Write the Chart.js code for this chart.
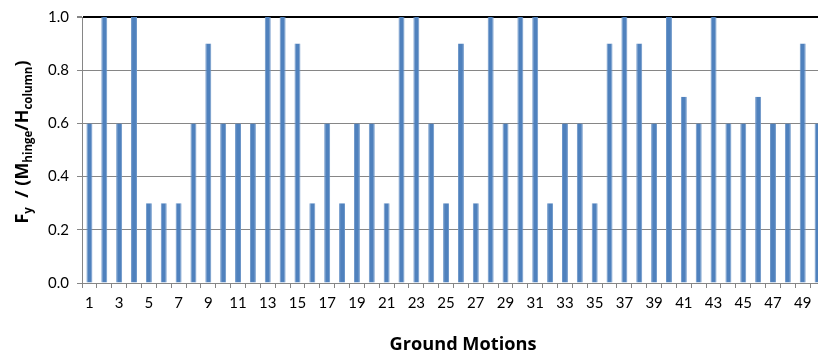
<!DOCTYPE html>
<html>
<head>
<meta charset="utf-8">
<script src="https://cdn.jsdelivr.net/npm/chart.js@4"></script>
<style>
  html, body { margin: 0; padding: 0; background: #fff; overflow: hidden; }
  #wrap { width: 818px; height: 358px; overflow: hidden; }
</style>
</head>
<body>
<div id="wrap"><canvas id="fyChart" width="826" height="358"></canvas></div>
<script>
// ground motion numbers 1..50
const motions = [];
for (let i = 1; i <= 50; i++) motions.push(String(i));

// Fy / (Mhinge/Hcolumn)
const fyRatio = [
    0.6, 1.0, 0.6, 1.0, 0.3, 0.3, 0.3, 0.6, 0.9, 0.6,
    0.6, 0.6, 1.0, 1.0, 0.9, 0.3, 0.6, 0.3, 0.6, 0.6,
    0.3, 1.0, 1.0, 0.6, 0.3, 0.9, 0.3, 1.0, 0.6, 1.0,
    1.0, 0.3, 0.6, 0.6, 0.3, 0.9, 1.0, 0.9, 0.6, 1.0,
    0.7, 0.6, 1.0, 0.6, 0.6, 0.7, 0.6, 0.6, 0.9, 0.6
];

const yTicks = [0, 0.2, 0.4, 0.6, 0.8, 1.0];

const FONT = "Lato, 'Open Sans', sans-serif";
const TITLE_FONT = "'Open Sans', sans-serif";

// axis titles drawn by hand so the subscripts come out right
const axisTitles = {
    id: "axisTitles",
    afterDraw(chart) {
        const ctx = chart.ctx;
        ctx.save();
        ctx.fillStyle = "#000";
        ctx.textBaseline = "alphabetic";

        // x title, sized to ~147px wide like the original
        ctx.font = "bold 16px " + TITLE_FONT;
        let size = 16 * 147 / ctx.measureText("Ground Motions").width;
        ctx.font = "bold " + size.toFixed(1) + "px " + TITLE_FONT;
        ctx.textAlign = "center";
        ctx.fillText("Ground Motions", 463, 350);

        // y title, rotated
        const parts = [
            { t: "F", sub: false },
            { t: "y", sub: true },
            { t: "  / (M", sub: false },
            { t: "hinge", sub: true },
            { t: "/H", sub: false },
            { t: "column", sub: true },
            { t: ")", sub: false }
        ];
        const measure = (bigPx) => {
            let total = 0;
            parts.forEach(p => {
                ctx.font = "bold " + (p.sub ? bigPx * 0.64 : bigPx) + "px " + TITLE_FONT;
                p.w = ctx.measureText(p.t).width;
                total += p.w;
            });
            return total;
        };
        let big = 16 * 163 / measure(16);
        const total = measure(big);
        ctx.translate(28, 142);
        ctx.rotate(-Math.PI / 2);
        ctx.textAlign = "left";
        let x = -total / 2;
        parts.forEach(p => {
            ctx.font = "bold " + (p.sub ? big * 0.64 : big) + "px " + TITLE_FONT;
            ctx.fillText(p.t, x, p.sub ? 4 : 0);
            x += p.w;
        });
        ctx.restore();
    }
};

const ctx = document.getElementById("fyChart").getContext("2d");

new Chart(ctx, {
    type: "bar",
    data: {
        labels: motions,
        datasets: [{
            data: fyRatio,
            backgroundColor: "#4F81BD",
            borderColor: "#6B95C8",
            borderWidth: { left: 1, right: 1, top: 0, bottom: 0 },
            borderSkipped: false,
            barPercentage: 0.4,
            categoryPercentage: 1.0
        }]
    },
    options: {
        responsive: false,
        animation: false,
        devicePixelRatio: 1,
        layout: { padding: { top: 9, right: 1, left: 0, bottom: 0 } },
        plugins: {
            legend: { display: false },
            tooltip: { enabled: false }
        },
        scales: {
            x: {
                offset: true,
                grid: {
                    offset: true,
                    drawOnChartArea: false,
                    drawTicks: true,
                    tickLength: 5,
                    color: "#868686"
                },
                border: { color: "#868686", width: 1 },
                ticks: {
                    autoSkip: false,
                    maxRotation: 0,
                    padding: 6,
                    color: "#000",
                    font: { family: FONT, size: 15 },
                    callback: (v, i) => (i % 2 === 0 ? motions[i] : "")
                },
                afterFit: s => { s.height = 75; }
            },
            y: {
                min: 0,
                max: 1,
                afterBuildTicks: s => { s.ticks = yTicks.map(v => ({ value: v })); },
                grid: {
                    color: c => (c.tick && c.tick.value === 1 ? "#000" : "#868686"),
                    lineWidth: c => (c.tick && c.tick.value === 1 ? 2 : 1),
                    tickLength: 5,
                    tickColor: "#868686"
                },
                border: { color: "#868686", width: 1 },
                ticks: {
                    padding: 8,
                    color: "#000",
                    font: { family: FONT, size: 15 },
                    callback: v => Number(v).toFixed(1)
                },
                afterFit: s => { s.width = 82; }
            }
        }
    },
    plugins: [axisTitles]
});
</script>
</body>
</html>
